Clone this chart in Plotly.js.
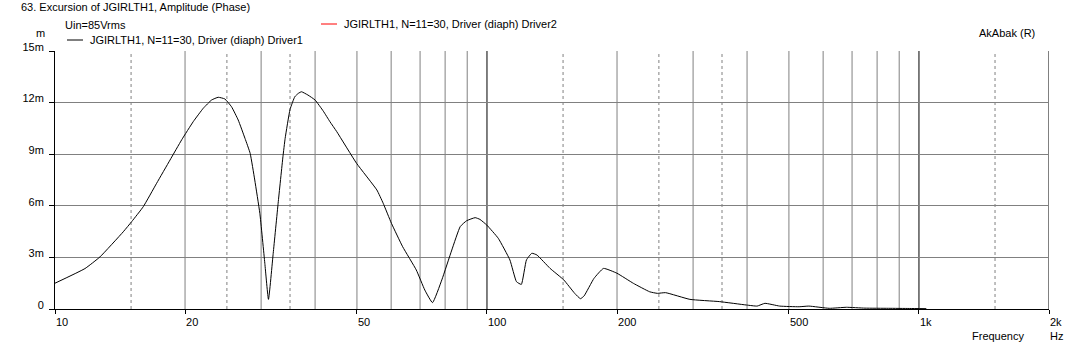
<!DOCTYPE html>
<html>
<head>
<meta charset="utf-8">
<script src="https://cdn.plot.ly/plotly-3.0.1.min.js"></script>
<style>html,body{margin:0;padding:0;background:#fff;}#chart{width:1075px;height:347px;}</style>
</head>
<body>
<div id="chart"></div>
<script>
// ---- data (frequency in Hz, excursion in mm, i.e. "m" = milli) ----
const freqHz = [10, 11.73, 12.71, 14.39, 15.05, 16.01, 17.19, 18.46, 19.66, 20.89, 22.04, 23.04, 23.87, 24.73, 25.62, 26.55, 27.53, 28.3, 29.0, 29.8, 30.6, 31.2, 32.0, 32.85, 33.7, 34.1, 35.0, 35.9, 36.6, 37.2, 38.5, 40.0, 41.8, 43.3, 44.9, 49.9, 55.6, 57.5, 60.1, 63.8, 68.6, 71.8, 74.8, 78.6, 82.9, 86.7, 89.7, 93.9, 96.3, 99.9, 106.2, 113, 117, 120.1, 123.4, 127, 130.5, 140, 150.6, 159.6, 164.6, 167.8, 176.9, 186.1, 199.9, 218.3, 238.1, 248, 259, 295, 345, 399, 422, 440, 476, 528, 556, 620, 679, 750, 850, 950, 1040];
const excursionDriver1 = [1.5, 2.35, 3.03, 4.49, 5.08, 5.95, 7.31, 8.66, 9.85, 10.89, 11.67, 12.15, 12.31, 12.21, 11.76, 10.99, 9.92, 9.05, 7.5, 5.56, 2.66, 0.56, 3.24, 6.15, 8.85, 9.92, 11.6, 12.34, 12.54, 12.63, 12.44, 12.15, 11.5, 10.89, 10.31, 8.47, 6.92, 6.15, 4.98, 3.62, 2.27, 1.10, 0.37, 1.69, 3.43, 4.79, 5.13, 5.31, 5.21, 4.88, 4.11, 2.85, 1.59, 1.43, 2.85, 3.24, 3.14, 2.36, 1.69, 0.91, 0.60, 0.76, 1.78, 2.36, 2.08, 1.49, 1.0, 0.91, 0.95, 0.56, 0.43, 0.23, 0.17, 0.33, 0.17, 0.13, 0.17, 0.04, 0.1, 0.05, 0.04, 0.03, 0.02];

const xTickVals = [10, 20, 50, 100, 200, 500, 1000, 2000];
const xTickText = ["10", "20", "50", "100", "200", "500", "1k", "2k"];
const yTickVals = [0, 3, 6, 9, 12, 15];
const yTickText = ["0", "3m", "6m", "9m", "12m", "15m"];

const gridSolid = [20, 30, 40, 50, 60, 70, 80, 90, 200, 300, 400, 500, 600, 700, 800, 900];
const gridDashed = [15, 25, 35, 150, 250, 350, 1500];
const gridMajor = [100, 1000, 2000];

const seriesName1 = "JGIRLTH1, N=11=30, Driver (diaph) Driver1";
const seriesName2 = "JGIRLTH1, N=11=30, Driver (diaph) Driver2";

// ---- layout helpers (pixel -> paper) ----
const W = 1075, H = 347;
const M = {l: 55, r: 26, t: 51, b: 38};
const PW = W - M.l - M.r, PH = H - M.t - M.b;
const px = v => (v - M.l) / PW;
const py = v => (H - M.b - v) / PH;

const FONT = "Liberation Sans, Arial, sans-serif";

const shapes = [];
gridSolid.forEach(f => shapes.push({type: "line", xref: "x", yref: "y", x0: f, x1: f, y0: 0, y1: 15, layer: "below", line: {color: "#808080", width: 1}}));
gridDashed.forEach(f => shapes.push({type: "line", xref: "x", yref: "y", x0: f, x1: f, y0: 0, y1: 15, layer: "below", line: {color: "#808080", width: 1, dash: "3px,3px"}}));
gridMajor.forEach(f => shapes.push({type: "line", xref: "x", yref: "y", x0: f, x1: f, y0: 0, y1: 15, layer: "below", line: {color: "#000000", width: 1}}));
// legend keys
shapes.push({type: "line", xref: "paper", yref: "paper", x0: px(67), x1: px(83), y0: py(40), y1: py(40), line: {color: "#000000", width: 1}});
shapes.push({type: "line", xref: "paper", yref: "paper", x0: px(321), x1: px(337), y0: py(24), y1: py(24), line: {color: "#ff0000", width: 1}});

function txt(text, x, y, size, anchor) {
  return {text: text, xref: "paper", yref: "paper", x: px(x), y: py(y), xanchor: anchor || "left", yanchor: "middle", showarrow: false, font: {family: FONT, size: size || 11, color: "#000"}};
}

const annotations = [
  txt("63. Excursion of JGIRLTH1, Amplitude (Phase)", 19, 7, 11),
  txt("Uin=85Vrms", 63, 25),
  txt(seriesName1, 88, 40),
  txt(seriesName2, 342, 24),
  txt("m", 47, 33, 11, "right"),
  txt("AkAbak (R)", 977, 33),
  txt("Frequency", 970, 336),
  txt("Hz", 1048, 336)
];

const traces = [{
  x: freqHz, y: excursionDriver1, type: "scatter", mode: "lines",
  name: seriesName1, line: {color: "#000000", width: 1, shape: "spline", smoothing: 0.4}, showlegend: false, hoverinfo: "skip"
}];

const layout = {
  width: W, height: H, margin: M,
  paper_bgcolor: "#ffffff", plot_bgcolor: "#ffffff",
  showlegend: false,
  font: {family: FONT, size: 11, color: "#000"},
  xaxis: {
    type: "log", range: [1, Math.log10(2000)],
    tickmode: "array", tickvals: xTickVals, ticktext: xTickText,
    ticks: "outside", ticklen: 4, tickcolor: "#000", tickwidth: 1,
    ticklabelposition: "outside right", ticklabelstandoff: 3,
    showline: true, linecolor: "#000", linewidth: 1,
    showgrid: false, zeroline: false,
    tickfont: {family: FONT, size: 11, color: "#000"}
  },
  yaxis: {
    range: [0, 15],
    tickmode: "array", tickvals: yTickVals, ticktext: yTickText,
    ticks: "outside", ticklen: 5, tickcolor: "#000", tickwidth: 1,
    ticklabelshift: -4, ticklabelstandoff: 3,
    showline: true, linecolor: "#000", linewidth: 1,
    showgrid: true, gridcolor: "#808080", gridwidth: 1, zeroline: false,
    tickfont: {family: FONT, size: 11, color: "#000"}
  },
  shapes: shapes,
  annotations: annotations
};

Plotly.newPlot("chart", traces, layout, {displayModeBar: false, staticPlot: true});
</script>
</body>
</html>
